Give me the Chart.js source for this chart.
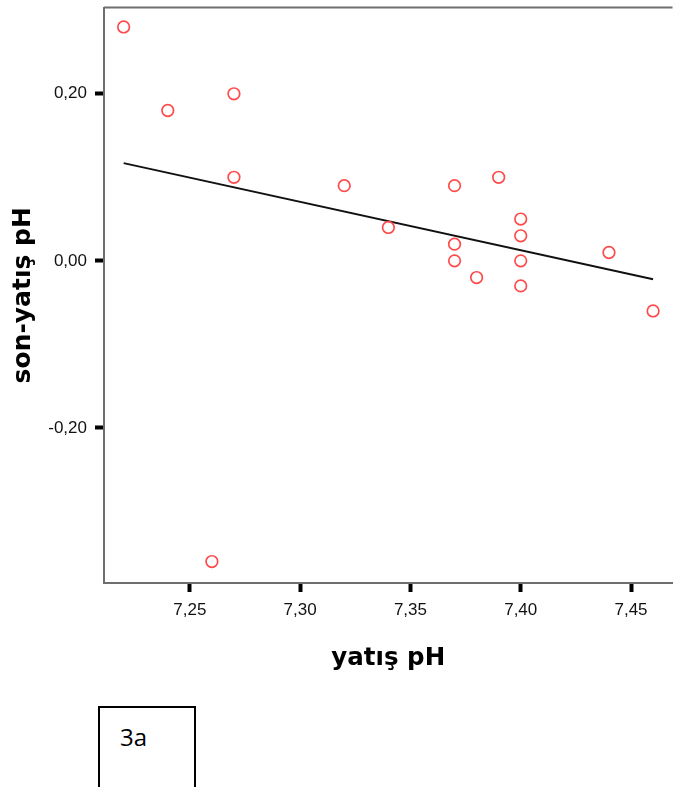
<!DOCTYPE html>
<html>
<head>
<meta charset="utf-8">
<script src="https://cdn.jsdelivr.net/npm/chart.js@4.4.1/dist/chart.umd.min.js"></script>
<style>
  html, body { margin: 0; padding: 0; background: #fff; overflow: hidden; width: 673px; height: 787px; }
  #wrap { position: absolute; left: 0; top: 0; width: 680px; height: 690px; }
  #tag { position: absolute; left: 98px; top: 706px; width: 98px; height: 100px;
         border: 2px solid #000; box-sizing: border-box;
         font: 24px "Open Sans", "Noto Sans", sans-serif; color: #000; }
  #tag span { position: absolute; left: 20px; top: 12px; }
</style>
</head>
<body>
<div id="wrap"><canvas id="c" width="680" height="690"></canvas></div>
<div id="tag"><span>3a</span></div>
<script>
"use strict";

// yatış pH vs (son - yatış) pH
const PH_ADMIT = [7.22, 7.24, 7.27, 7.27, 7.32, 7.34, 7.37, 7.37, 7.37, 7.38, 7.39, 7.40, 7.40, 7.40, 7.40, 7.44, 7.46, 7.26];
const PH_DELTA = [0.28, 0.18, 0.20, 0.10, 0.09, 0.04, 0.09, 0.02, 0.00, -0.02, 0.10, 0.05, 0.03, 0.00, -0.03, 0.01, -0.06, -0.36];
const FIT_X = [7.22, 7.46];          // fit line ends
const FIT_Y = [0.117, -0.022];
const X_TICKS = [7.25, 7.30, 7.35, 7.40, 7.45];
const Y_TICKS = [-0.20, 0.00, 0.20];

const comma = (v) => Number(v).toFixed(2).replace(".", ",");
const AXIS = "#6e6e6e";

// plot frame: top edge (left/bottom come from the axis borders)
const frame = {
  id: "frame",
  afterDraw(chart) {
    const { ctx, chartArea: a } = chart;
    ctx.save();
    ctx.strokeStyle = AXIS; ctx.lineWidth = 2;
    ctx.beginPath(); ctx.moveTo(a.left, a.top); ctx.lineTo(a.right, a.top); ctx.stroke();
    ctx.restore();
  },
};

new Chart(document.getElementById("c"), {
  data: {
    datasets: [
      { type: "line", data: FIT_X.map((x, i) => ({ x, y: FIT_Y[i] })),
        borderColor: "#111", borderWidth: 2, pointRadius: 0, order: 2 },
      { type: "scatter", data: PH_ADMIT.map((x, i) => ({ x, y: PH_DELTA[i] })),
        pointStyle: "circle", pointRadius: 5.8, borderWidth: 1.7,
        borderColor: "#ff4a4a", backgroundColor: "rgba(0,0,0,0)", order: 1 },
    ],
  },
  options: {
    responsive: false, animation: false,
    layout: { padding: { top: 6, left: 0, right: 0, bottom: 0 } },
    plugins: { legend: { display: false }, tooltip: { enabled: false } },
    scales: {
      x: {
        type: "linear", position: "bottom", min: 7.2111, max: 7.4688,
        afterBuildTicks: (s) => { s.ticks = X_TICKS.map((v) => ({ value: v })); },
        afterFit: (s) => { s.height = 107; },
        border: { color: AXIS, width: 2 },
        grid: { drawOnChartArea: false, drawTicks: true, tickLength: 9, tickWidth: 4, tickColor: "#000" },
        ticks: { padding: 8, color: "#111", font: { family: "Liberation Sans", size: 17 },
                 callback: (v) => comma(v), maxRotation: 0 },
        title: { display: true, text: "yatış pH", color: "#000", padding: { bottom: 17 },
                 font: { family: "DejaVu Sans", weight: "bold", size: 24.5 } },
      },
      y: {
        type: "linear", position: "left", min: -0.3857, max: 0.3033,
        afterBuildTicks: (s) => { s.ticks = Y_TICKS.map((v) => ({ value: v })); },
        afterFit: (s) => { s.width = 104; s.paddingTop = 0; s.paddingBottom = 0; },
        border: { color: AXIS, width: 2 },
        grid: { drawOnChartArea: false, drawTicks: true, tickLength: 9, tickWidth: 4, tickColor: "#000" },
        ticks: { padding: 8, color: "#111", font: { family: "Liberation Sans", size: 17 },
                 callback: (v) => comma(v) },
        title: { display: true, text: "son-yatış pH", color: "#000", padding: { top: 8 },
                 font: { family: "DejaVu Sans", weight: "bold", size: 25 } },
      },
    },
  },
  plugins: [frame],
});
</script>
</body>
</html>
